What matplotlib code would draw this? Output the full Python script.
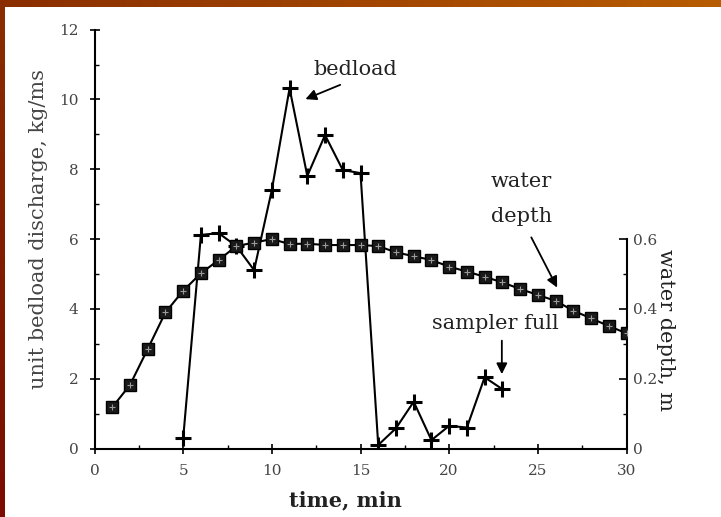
import numpy as np
import matplotlib
matplotlib.use('Agg')
import matplotlib.pyplot as plt
from matplotlib.colors import LinearSegmentedColormap
from matplotlib.ticker import MultipleLocator

# ---- data ----
depth_time = list(range(1, 31))
depth_m = [0.118, 0.182, 0.285, 0.390, 0.452, 0.502, 0.540, 0.580, 0.590, 0.600,
           0.586, 0.587, 0.583, 0.583, 0.583, 0.580, 0.562, 0.551, 0.540, 0.521,
           0.507, 0.492, 0.476, 0.457, 0.440, 0.423, 0.395, 0.373, 0.351, 0.330]
bed_time = list(range(5, 24))
bed_q = [0.29, 6.12, 6.17, 5.80, 5.11, 7.41, 10.32, 7.81, 8.98, 7.98, 7.89,
         0.10, 0.58, 1.34, 0.24, 0.65, 0.60, 2.04, 1.70]
x_ticks = [0, 5, 10, 15, 20, 25, 30]
left_ticks = [0, 2, 4, 6, 8, 10, 12]
right_ticks = [0, 0.2, 0.4, 0.6]
right_labels = ['0', '0.2', '0.4', '0.6']

SERIF = ['DejaVu Serif']
plt.rcParams['font.family'] = SERIF

W, H = 721, 517
fig = plt.figure(figsize=(W / 100, H / 100), dpi=100)
fig.patch.set_facecolor('white')

# decorative borders
cm_top = LinearSegmentedColormap.from_list('t', ['#8a2e00', '#b85c00'])
axt = fig.add_axes([0, 1 - 7 / H, 1, 7 / H])
axt.imshow(np.linspace(0, 1, 256).reshape(1, -1), aspect='auto', cmap=cm_top)
axt.axis('off')
cm_left = LinearSegmentedColormap.from_list('l', ['#8a2e00', '#7a0c00'])
axl = fig.add_axes([0, 0, 5 / W, 1])
axl.imshow(np.linspace(0, 1, 256).reshape(-1, 1), aspect='auto', cmap=cm_left)
axl.axis('off')

ax = fig.add_axes([94.5 / W, 68.5 / H, 532 / W, 418.8 / H])
ax.set_xlim(0, 30)
ax.set_ylim(0, 12)
ax.spines['top'].set_visible(False)
ax.spines['right'].set_visible(False)
for s in ('left', 'bottom'):
    ax.spines[s].set_linewidth(1.5)
ax.set_xticks(x_ticks)
ax.set_xticklabels([str(v) for v in x_ticks])
ax.set_yticks(left_ticks)
ax.set_yticklabels([str(v) for v in left_ticks])
ax.xaxis.set_minor_locator(MultipleLocator(2.5))
ax.yaxis.set_minor_locator(MultipleLocator(1))
ax.tick_params(axis='both', which='major', direction='inout', length=7, width=1.2,
               labelsize=11, labelcolor='#444444')
ax.tick_params(axis='x', which='major', pad=8)
ax.tick_params(axis='y', which='major', pad=8)
ax.tick_params(axis='both', which='minor', direction='in', length=3, width=1.0)

ax.plot(bed_time, bed_q, color='black', lw=1.5, marker='+', ms=11, mew=2.2, zorder=3)

ax2 = ax.twinx()
ax2.set_ylim(0, 1.2)
for s in ('left', 'top', 'bottom'):
    ax2.spines[s].set_visible(False)
ax2.spines['right'].set_bounds(0, 0.6)
ax2.spines['right'].set_linewidth(1.5)
ax2.set_yticks(right_ticks)
ax2.set_yticklabels(right_labels)
ax2.yaxis.set_minor_locator(MultipleLocator(0.1))
ax2.set_yticks([0.1, 0.3, 0.5], minor=True)
ax2.tick_params(axis='y', which='major', direction='in', length=6, width=1.2,
                labelsize=11, labelcolor='#444444', pad=5)
ax2.tick_params(axis='y', which='minor', direction='in', length=3, width=1.0)

ax2.plot(depth_time, depth_m, color='black', lw=1.5, marker='s', ms=9,
         mfc='#1a1a1a', mec='black', zorder=3)
ax2.plot(depth_time, depth_m, ls='none', marker='+', ms=5, mew=0.8,
         color='#9a9a9a', zorder=4)

arrow = dict(arrowstyle='-|>', mutation_scale=16, lw=1.3, color='black')
ax.annotate('', xy=(11.75, 9.98), xytext=(14.0, 10.45), arrowprops=arrow)
ax.annotate('', xy=(26.16, 4.54), xytext=(24.56, 6.12), arrowprops=arrow)
ax.annotate('', xy=(22.97, 2.05), xytext=(22.97, 3.17), arrowprops=arrow)

tkw = dict(fontsize=15, color='#222222', ha='center', va='center')
ax.text(14.69, 10.85, 'bedload', **tkw)
ax.text(24.09, 7.64, 'water', **tkw)
ax.text(24.09, 6.64, 'depth', **tkw)
ax.text(22.58, 3.59, 'sampler full', **tkw)

fig.text(38.5 / W, 1 - 229 / H, 'unit bedload discharge, kg/ms', rotation=90,
         fontsize=15, color='#444444', ha='center', va='center')
fig.text(665 / W, 1 - 330 / H, 'water depth, m', rotation=270,
         fontsize=15, color='#222222', ha='center', va='center')
fig.text(345 / W, 1 - 500 / H, 'time, min', fontsize=15, color='#222222',
         ha='center', va='center', fontweight='bold')

fig.savefig('out.png', dpi=100, facecolor='white')
